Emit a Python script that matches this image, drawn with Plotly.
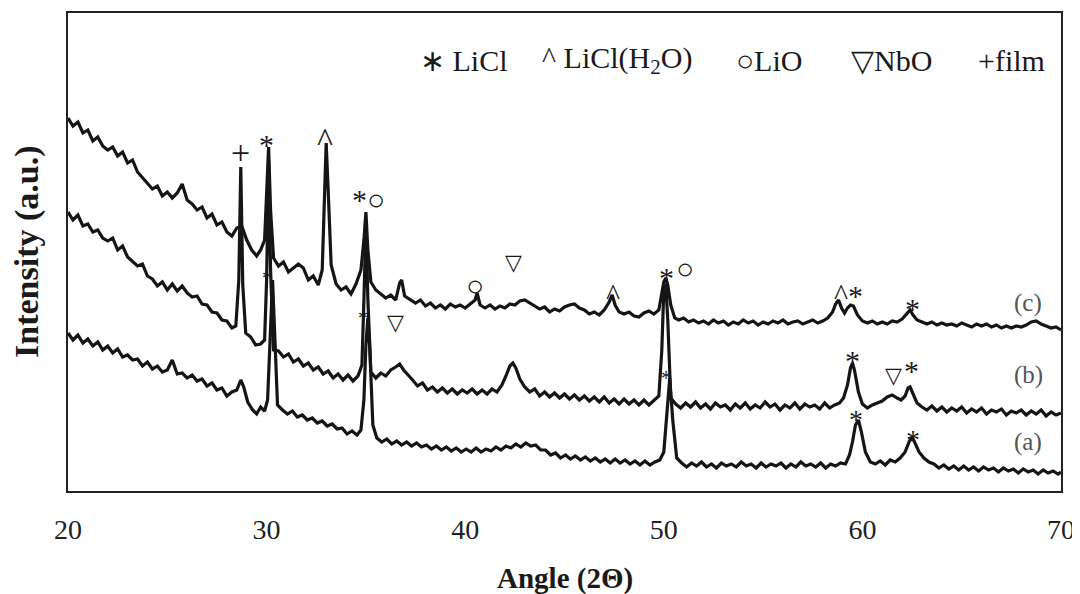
import plotly.graph_objects as go

# ---------------- data ----------------
# curve (c): top pattern
c_angle = [20.0, 20.25, 20.5, 20.75, 21.0, 21.25, 21.5, 21.75, 22.0, 22.25, 22.5, 22.75, 23.0, 23.25, 23.5, 23.75,
           24.0, 24.25, 24.5, 24.75, 25.0, 25.25, 25.5, 25.75, 26.0, 26.25, 26.5, 26.75, 27.0, 27.25, 27.5, 27.75,
           28.0, 28.25, 28.5, 28.75, 29.0, 29.25, 29.5,
           29.7, 29.9, 30.0, 30.1, 30.2, 30.35,
           30.6, 30.85, 31.1, 31.35, 31.6, 31.85, 32.1, 32.35, 32.6,
           32.8, 32.9, 33.0, 33.1, 33.25,
           33.5, 33.75, 34.0, 34.25, 34.5, 34.75,
           34.9, 35.0, 35.1, 35.25,
           35.5, 35.75, 36.0, 36.25, 36.5,
           36.7, 36.8, 36.95,
           37.25, 37.5, 37.75, 38.0, 38.25, 38.5, 38.75, 39.0, 39.25, 39.5, 39.75, 40.0, 40.25, 40.5,
           40.6, 40.75,
           41.0, 41.25, 41.5, 41.75, 42.0, 42.25, 42.5, 42.75, 43.0, 43.25, 43.5, 43.75, 44.0, 44.25, 44.5, 44.75,
           45.0, 45.25, 45.5, 45.75, 46.0, 46.25, 46.5, 46.75, 47.0, 47.25,
           47.4, 47.55,
           47.75, 48.0, 48.25, 48.5, 48.75, 49.0, 49.25, 49.5, 49.75,
           49.9, 50.0, 50.1, 50.2, 50.35, 50.55,
           50.75,
           51.0, 51.25, 51.5, 51.75, 52.0, 52.25, 52.5, 52.75, 53.0, 53.25, 53.5, 53.75, 54.0, 54.25, 54.5, 54.75,
           55.0, 55.25, 55.5, 55.75, 56.0, 56.25, 56.5, 56.75, 57.0, 57.25, 57.5, 57.75, 58.0, 58.25, 58.5,
           58.65, 58.8, 58.95, 59.1, 59.25, 59.4, 59.55, 59.75,
           60.0, 60.25, 60.5, 60.75, 61.0, 61.25, 61.5, 61.75, 62.0, 62.25,
           62.4, 62.55,
           62.75, 63.0, 63.25, 63.5, 63.75, 64.0, 64.25, 64.5, 64.75, 65.0, 65.25, 65.5, 65.75, 66.0, 66.25, 66.5,
           66.75, 67.0, 67.25, 67.5, 67.75, 68.0, 68.25, 68.5, 68.75, 69.0, 69.25, 69.5, 69.75, 70.0]
c_int = [382, 374, 378, 367, 370, 359, 363, 354, 350, 353, 344, 348, 337, 340, 328, 322,
         317, 311, 314, 304, 308, 302, 307, 316, 300, 296, 290, 293, 282, 286, 275, 278,
         268, 264, 272, 274, 260, 250, 244,
         250, 260, 300, 353, 290, 242,
         234, 238, 228, 232, 236, 232, 220, 224, 215,
         230, 300, 357, 310, 235,
         216, 210, 213, 206, 216, 230,
         260, 288, 250, 218,
         210, 206, 202, 205, 200,
         217, 220, 204,
         200, 197, 200, 194, 197, 192, 195, 191, 196, 193, 195, 192, 196, 200,
         207, 195,
         192, 195, 191, 194, 192, 196, 195, 199, 200, 197, 194, 191, 193, 188, 191, 189,
         193, 195, 196, 192, 190, 186, 188, 185, 190, 198,
         205, 195,
         188, 186, 188, 184, 183, 187, 189, 186, 190,
         205, 218, 222, 215, 195, 182,
         180,
         182, 178, 180, 177, 179, 176, 180, 177, 179, 175, 178, 176, 180, 177, 179, 175,
         178, 176, 179, 177, 180, 176, 178, 179, 176, 178, 180, 177, 179, 182, 188,
         196, 200, 192, 187, 192, 195, 194, 185,
         179, 177, 179, 176, 178, 176, 179, 178, 181, 186,
         190, 185,
         180, 178, 176, 178, 175, 177, 175, 176, 174, 177, 175, 173, 176, 174, 176, 173,
         175, 172, 174, 172, 174, 173, 175, 178, 179, 176, 174, 172, 173, 170]

# curve (b): middle pattern
b_angle = [20.0, 20.25, 20.5, 20.75, 21.0, 21.25, 21.5, 21.75, 22.0, 22.25, 22.5, 22.75, 23.0, 23.25, 23.5, 23.75,
           24.0, 24.25, 24.5, 24.75, 25.0, 25.25, 25.5, 25.75, 26.0, 26.25, 26.5, 26.75, 27.0, 27.25, 27.5, 27.75,
           28.0, 28.25,
           28.45, 28.6, 28.7, 28.8, 28.95,
           29.2, 29.45, 29.7, 29.9, 30.0, 30.1, 30.2, 30.35,
           30.6, 30.85, 31.1, 31.35, 31.6, 31.85, 32.1, 32.35, 32.6, 32.85, 33.1, 33.35, 33.6, 33.85, 34.1, 34.35, 34.6,
           34.8, 34.9, 35.0, 35.1, 35.25,
           35.5, 35.75, 36.0, 36.25, 36.5, 36.7, 36.9, 37.1,
           37.35, 37.6, 37.85, 38.1, 38.35, 38.6, 38.85, 39.1, 39.35, 39.6, 39.85, 40.1, 40.35, 40.6, 40.85, 41.1,
           41.35, 41.6,
           41.85, 42.05, 42.25, 42.4, 42.55, 42.75, 43.0,
           43.25, 43.5, 43.75, 44.0, 44.25, 44.5, 44.75, 45.0, 45.25, 45.5, 45.75, 46.0, 46.25, 46.5, 46.75, 47.0,
           47.25, 47.5, 47.75, 48.0, 48.25, 48.5, 48.75, 49.0, 49.25, 49.5, 49.75,
           49.9, 50.0, 50.1, 50.2, 50.35,
           50.6, 50.85, 51.1, 51.35, 51.6, 51.85, 52.1, 52.35, 52.6, 52.85, 53.1, 53.35, 53.6, 53.85, 54.1, 54.35,
           54.6, 54.85, 55.1, 55.35, 55.6, 55.85, 56.1, 56.35, 56.6, 56.85, 57.1, 57.35, 57.6, 57.85, 58.1, 58.35,
           58.6, 58.85,
           59.05, 59.25, 59.4, 59.5, 59.6, 59.8, 60.0,
           60.25, 60.5, 60.75, 61.0, 61.25, 61.5, 61.75, 61.95, 62.15, 62.3, 62.4, 62.55, 62.75, 63.0,
           63.25, 63.5, 63.75, 64.0, 64.25, 64.5, 64.75, 65.0, 65.25, 65.5, 65.75, 66.0, 66.25, 66.5, 66.75, 67.0,
           67.25, 67.5, 67.75, 68.0, 68.25, 68.5, 68.75, 69.0, 69.25, 69.5, 69.75, 70.0]
b_int = [288, 280, 285, 274, 276, 268, 270, 262, 259, 262, 250, 254, 243, 238, 234, 236,
         224, 221, 214, 218, 210, 216, 209, 214, 207, 203, 204, 196, 195, 188, 187, 180,
         179, 172,
         174, 220, 333, 215, 167,
         163, 155, 156, 160, 220, 340, 230, 150,
         149, 143, 146, 138, 141, 134, 137, 130, 133, 126, 129, 122, 126, 120, 125, 119, 124,
         135, 200, 275, 200, 128,
         122, 127, 124, 130, 133, 136, 130, 125,
         120, 114, 117, 110, 113, 108, 112, 107, 111, 106, 110, 107, 111, 106, 110, 106,
         111, 108,
         115, 124, 134, 137, 132, 121, 113,
         108, 111, 104, 108, 103, 107, 102, 106, 101, 105, 100, 104, 99, 103, 98, 103,
         97, 101, 96, 101, 96, 100, 95, 100, 95, 99, 104,
         150, 210, 216, 180, 102,
         96, 92, 97, 93, 98, 92, 96, 91, 97, 93, 95, 90, 96, 92, 97, 91,
         95, 92, 98, 93, 96, 90, 95, 92, 97, 91, 96, 93, 95, 91, 97, 92,
         95, 97,
         102, 115, 132, 137, 130, 108, 96,
         92, 95, 97, 99, 103, 105, 102, 100, 104, 112, 113, 106, 97, 93,
         90, 94, 89, 93, 88, 92, 89, 93, 87, 91, 88, 92, 86, 90, 88, 91,
         85, 89, 87, 90, 85, 89, 86, 90, 84, 88, 85, 87]

# curve (a): bottom pattern
a_angle = [20.0, 20.25, 20.5, 20.75, 21.0, 21.25, 21.5, 21.75, 22.0, 22.25, 22.5, 22.75, 23.0, 23.25, 23.5, 23.75,
           24.0, 24.25, 24.5, 24.75, 25.0, 25.25, 25.5, 25.75, 26.0, 26.25, 26.5, 26.75, 27.0, 27.25, 27.5, 27.75,
           28.0, 28.25, 28.5,
           28.7, 28.85, 29.05, 29.3, 29.5, 29.7, 29.9, 30.05, 30.2, 30.3, 30.4, 30.55,
           30.8, 31.05, 31.3, 31.55, 31.8, 32.05, 32.3, 32.55, 32.8, 33.05, 33.3, 33.55, 33.8, 34.05, 34.3, 34.55,
           34.75, 34.9, 35.0, 35.1, 35.2, 35.35,
           35.55, 35.8, 36.05, 36.3, 36.55, 36.8, 37.05, 37.3, 37.55, 37.8, 38.05, 38.3, 38.55, 38.8, 39.05, 39.3,
           39.55, 39.8, 40.05, 40.3, 40.55, 40.8, 41.05, 41.3, 41.55, 41.8, 42.05, 42.3, 42.55, 42.8, 43.05, 43.3,
           43.55, 43.8, 44.05, 44.3, 44.55, 44.8, 45.05, 45.3, 45.55, 45.8, 46.05, 46.3, 46.55, 46.8, 47.05, 47.3,
           47.55, 47.8, 48.05, 48.3, 48.55, 48.8, 49.05, 49.3, 49.55, 49.8,
           50.0, 50.15, 50.3, 50.45, 50.65,
           50.9, 51.15, 51.4, 51.65, 51.9, 52.15, 52.4, 52.65, 52.9, 53.15, 53.4, 53.65, 53.9, 54.15, 54.4, 54.65,
           54.9, 55.15, 55.4, 55.65, 55.9, 56.15, 56.4, 56.65, 56.9, 57.15, 57.4, 57.65, 57.9, 58.15, 58.4, 58.65,
           58.9, 59.15,
           59.35, 59.5, 59.65, 59.8, 59.95, 60.15, 60.4,
           60.65, 60.9, 61.15, 61.4, 61.65, 61.9, 62.15, 62.35, 62.5, 62.65, 62.85, 63.1, 63.35,
           63.6, 63.85, 64.1, 64.35, 64.6, 64.85, 65.1, 65.35, 65.6, 65.85, 66.1, 66.35, 66.6, 66.85, 67.1, 67.35,
           67.6, 67.85, 68.1, 68.35, 68.6, 68.85, 69.1, 69.35, 69.6, 69.85,
           70.0]
a_int = [167, 160, 165, 157, 161, 154, 158, 150, 154, 147, 151, 143, 145, 140, 141, 134,
         138, 131, 134, 128, 130, 140, 126, 127, 122, 125, 119, 121, 114, 117, 110, 112,
         104, 108, 110,
         120, 113, 98, 90, 86, 93, 89, 100, 180, 220, 170, 95,
         90, 86, 89, 83, 85, 80, 82, 77, 79, 74, 76, 71, 72, 66, 69, 65,
         70, 100, 155, 182, 150, 75,
         62, 58, 61, 56, 59, 55, 58, 54, 57, 53, 55, 51, 54, 50, 53, 49,
         52, 48, 51, 48, 52, 48, 51, 49, 53, 50, 54, 52, 56, 53, 57, 54,
         55, 50, 50, 45, 47, 42, 45, 41, 44, 40, 43, 39, 42, 38, 41, 37,
         41, 37, 40, 36, 39, 35, 39, 35, 38, 40,
         48, 90, 122, 80, 42,
         37, 33, 37, 34, 38, 33, 36, 32, 37, 34, 36, 33, 38, 34, 36, 32,
         37, 33, 36, 34, 37, 32, 36, 33, 38, 34, 36, 33, 37, 32, 36, 34,
         37, 36,
         45, 58, 75, 80, 68, 48, 38,
         36, 39, 35, 40, 38, 42, 48, 58, 63, 57, 48, 42, 38,
         36, 32, 35, 31, 34, 30, 34, 30, 33, 29, 33, 30, 32, 28, 32, 29,
         31, 27, 31, 28, 30, 26, 30, 27, 29, 26,
         28]

# peak markers: angle, intensity, symbol, font size
mark_angle = [28.67, 29.98, 32.95, 35.15, 40.51, 47.42, 50.14, 51.05, 58.91, 59.67, 62.54,
              36.48, 42.43, 59.52, 61.58, 62.49,
              30.03, 34.87, 50.09, 59.67, 62.54]
mark_int = [348, 363, 365, 303, 215, 210, 230, 232, 210, 212, 199,
            178, 238, 147, 125, 137,
            227, 187, 127, 87, 67]
mark_sym = ["+", "*", "^", "*○", "○", "^", "*", "○", "^", "*", "*",
            "▽", "▽", "*", "▽", "*",
            "*", "*", "*", "*", "*"]
mark_size = [34, 30, 34, 30, 30, 30, 30, 30, 30, 30, 30,
             22, 22, 30, 22, 30,
             20, 20, 20, 28, 28]

# curve labels
curve_label = ["(c)", "(b)", "(a)"]
curve_label_angle = [68.34, 68.34, 68.34]
curve_label_int = [197, 125, 58]

# legend row
legend_text = ["∗ LiCl", "^ LiCl(H<sub>2</sub>O)", "○LiO", "▽NbO", "+film"]
legend_angle = [37.64, 43.79, 53.52, 59.31, 65.71]
legend_int = [440, 440, 440, 440, 440]

x_ticks = [20, 30, 40, 50, 60, 70]

assert len(c_angle) == len(c_int), (len(c_angle), len(c_int))
assert len(b_angle) == len(b_int), (len(b_angle), len(b_int))
assert len(a_angle) == len(a_int), (len(a_angle), len(a_int))

SERIF = "Liberation Serif, Times New Roman, serif"
INK = "#151515"

# vertical nudge so that each glyph's ink sits where the label is read
GLYPH_SHIFT = {"*": -7, "^": -4, "+": 0, "○": 0, "▽": 0, "*○": -2}

fig = go.Figure()
for xs, ys in [(a_angle, a_int), (b_angle, b_int), (c_angle, c_int)]:
    fig.add_trace(go.Scatter(x=xs, y=ys, mode="lines",
                             line=dict(color=INK, width=3.2), showlegend=False,
                             hoverinfo="skip"))

ann = []
for xa, ya, s, fs in zip(mark_angle, mark_int, mark_sym, mark_size):
    ann.append(dict(x=xa, y=ya, xref="x", yref="y", text=s, showarrow=False,
                    xanchor="center", yanchor="middle",
                    yshift=GLYPH_SHIFT[s] * fs / 30,
                    font=dict(family=SERIF, size=fs, color="#1a1a1a")))
for t, xa, ya in zip(curve_label, curve_label_angle, curve_label_int):
    ann.append(dict(x=xa, y=ya, xref="x", yref="y", text=t, showarrow=False,
                    xanchor="center", yanchor="middle",
                    font=dict(family=SERIF, size=25, color="#555")))
for t, xa, ya in zip(legend_text, legend_angle, legend_int):
    ann.append(dict(x=xa, y=ya, xref="x", yref="y", text=t, showarrow=False,
                    xanchor="left", yanchor="middle",
                    font=dict(family=SERIF, size=30, color="#1a1a1a")))
# axis titles
ann.append(dict(x=0.5, y=0, xref="paper", yref="paper", yshift=-87, text="<b>Angle (2Θ)</b>",
                showarrow=False, xanchor="center", yanchor="middle",
                font=dict(family=SERIF, size=29, color="#1a1a1a")))
ann.append(dict(x=0, y=0.5, xref="paper", yref="paper", xshift=-41, text="<b>Intensity (a.u.)</b>",
                showarrow=False, xanchor="center", yanchor="middle", textangle=-90,
                font=dict(family=SERIF, size=34, color="#1a1a1a")))

# the page body adds an 8 px offset, so the figure is sized to the visible window
fig.update_layout(
    width=1072, height=586,
    margin=dict(l=60, r=19, t=5, b=103),
    paper_bgcolor="white", plot_bgcolor="white",
    annotations=ann,
    xaxis=dict(range=[20, 70], tickvals=x_ticks, ticktext=[str(v) for v in x_ticks],
               ticks="", showgrid=False, zeroline=False, automargin=False,
               showline=True, mirror=True, linecolor="#222", linewidth=1.6,
               tickfont=dict(family=SERIF, size=28, color="#222"),
               ticklabelstandoff=13),
    yaxis=dict(range=[9, 487], showticklabels=False, ticks="", showgrid=False, zeroline=False,
               automargin=False,
               showline=True, mirror=True, linecolor="#222", linewidth=1.6),
)

fig.write_html("out.html")
